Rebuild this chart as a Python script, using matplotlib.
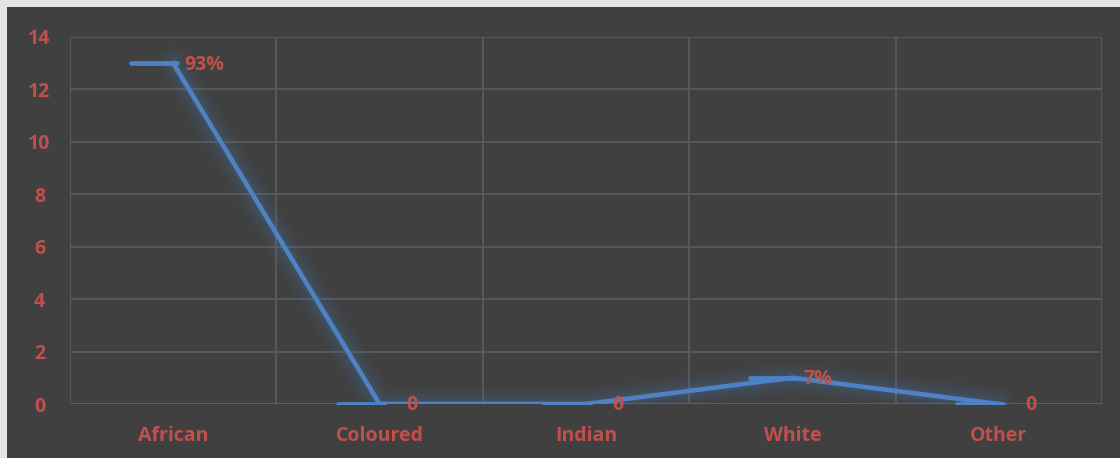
import matplotlib.pyplot as plt
from matplotlib.markers import MarkerStyle
from matplotlib.path import Path
from matplotlib.patches import Rectangle

# data
categories = ['African', 'Coloured', 'Indian', 'White', 'Other']
counts = [13, 0, 0, 1, 0]
point_labels = ['93%', '0', '0', '7%', '0']
yticks = [0, 2, 4, 6, 8, 10, 12, 14]

bg = '#404040'
red = '#C0504D'
blue = '#4D82C4'

plt.rcParams['font.family'] = ['Open Sans', 'DejaVu Sans']
plt.rcParams['font.weight'] = 'bold'

fig = plt.figure(figsize=(11.2, 4.58), dpi=100)
fig.patch.set_facecolor('#E4E4E4')
fig.add_artist(Rectangle((7 / 1120, 0), 1, 1 - 7 / 458, transform=fig.transFigure,
                         facecolor=bg, edgecolor='none', zorder=-10))

ax = fig.add_axes([70 / 1120, 1 - 404 / 458, 1032 / 1120, 367 / 458])
ax.set_facecolor(bg)
x = list(range(len(categories)))

# glow under the line
for w, a in [(34, 0.03), (28, 0.04), (22, 0.05), (16, 0.06), (10, 0.08)]:
    ax.plot(x, counts, color=blue, lw=w * 0.72, alpha=a, solid_capstyle='round',
            solid_joinstyle='round', zorder=2)

# dash markers sitting just left of each point
dash = MarkerStyle(Path([(-1.0, 0.0), (0.1, 0.0)]), capstyle='round')
ax.plot(x, counts, color=blue, lw=3.3, solid_joinstyle='miter', zorder=3,
        marker=dash, markersize=60, markeredgewidth=3.4, markeredgecolor=blue)

for xi, yi, lab in zip(x, counts, point_labels):
    dx = 8 if yi else 19
    ax.annotate(lab, (xi, yi), xytext=(dx, -1), textcoords='offset points',
                ha='left', va='center', color=red, fontsize=14, fontweight='bold', zorder=4)

ax.set_xlim(-0.5, len(categories) - 0.5)
ax.set_ylim(0, 14)
ax.set_yticks(yticks)
ax.set_xticks(x)
ax.set_xticklabels(categories)

# vertical gridlines at category boundaries
for b in [i - 0.5 for i in range(len(categories) + 1)]:
    ax.axvline(b, color='#5A5A5A', lw=1.3, zorder=1)
for t in yticks[1:]:
    ax.axhline(t, color='#5A5A5A', lw=1.3, zorder=1)
ax.axhline(0, color='#A0500F', lw=2.2, zorder=1.5)

for s in ax.spines.values():
    s.set_visible(False)
ax.tick_params(length=0, colors=red, labelsize=14)
ax.tick_params(axis='y', pad=22)
ax.tick_params(axis='x', pad=16)
for lab in ax.get_xticklabels() + ax.get_yticklabels():
    lab.set_fontweight('bold')
    lab.set_color(red)
for lab in ax.get_yticklabels():
    lab.set_horizontalalignment('center')

fig.savefig('out.png', dpi=100, facecolor=fig.get_facecolor())
